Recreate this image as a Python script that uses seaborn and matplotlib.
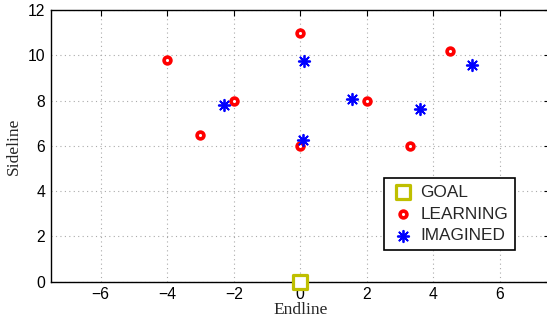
import numpy as np
import pandas as pd
import matplotlib
matplotlib.use('Agg')
import matplotlib.pyplot as plt
import seaborn as sns

# ── Data ──────────────────────────────────────────────────────
goal_x = [0.0]
goal_y = [0.0]

learning_x = [-4.0, -3.0, -2.0, 0.0, 0.0, 2.0, 3.3, 4.5]
learning_y = [9.8, 6.5, 8.0, 11.0, 6.0, 8.0, 6.0, 10.2]

imagined_x = [-2.3, 0.12, 0.08, 1.56, 3.6, 5.15]
imagined_y = [7.82, 9.75, 6.25, 8.05, 7.62, 9.57]

x_ticks = [-6, -4, -2, 0, 2, 4, 6]
y_ticks = [0, 2, 4, 6, 8, 10, 12]

# ── Style ─────────────────────────────────────────────────────
sns.set_style('white')
plt.rcParams['font.family'] = ['Liberation Sans', 'DejaVu Sans']

fig = plt.figure(figsize=(5.47, 3.24), dpi=100)
ax = fig.add_axes([0.0925, 0.1306, 0.913, 0.8386])

sns.scatterplot(x=goal_x, y=goal_y, ax=ax, marker='s', s=100,
                facecolor='white', edgecolor='#BFBF00', linewidth=2.3,
                label='GOAL', clip_on=False, zorder=5)
sns.scatterplot(x=learning_x, y=learning_y, ax=ax, marker='o', s=24,
                facecolor='white', edgecolor='red', linewidth=2.6,
                label='LEARNING', zorder=4)
sns.scatterplot(x=imagined_x, y=imagined_y, ax=ax, marker=(8, 2, 0), s=68,
                color='blue', edgecolor='blue', linewidth=1.3,
                label='IMAGINED', zorder=4)

ax.set_xlim(-7.5, 7.5)
ax.set_ylim(0, 12)
ax.set_xticks(x_ticks)
ax.set_yticks(y_ticks)
ax.set_xticklabels([str(t).replace('-', '\u2212') for t in x_ticks], fontsize=11.3)
ax.set_yticklabels([str(t) for t in y_ticks], fontsize=11.3)
ax.tick_params(direction='in', length=4, width=0.8, top=True, right=True,
               pad=4, colors='black')

ax.grid(True, linestyle=(0, (1, 3)), color='#aaaaaa', linewidth=0.8)
for s in ax.spines.values():
    s.set_color('black')
    s.set_linewidth(1.0)

ax.set_xlabel('Endline', family='Liberation Serif', fontsize=12.5, labelpad=0)
ax.set_ylabel('Sideline', family='Liberation Serif', fontsize=12.5, labelpad=4)

leg = ax.legend(loc='upper left', bbox_to_anchor=(0.668, 0.383),
                fontsize=12.4, frameon=True, fancybox=False, framealpha=1,
                edgecolor='black', borderpad=0.4, handletextpad=0.3,
                labelspacing=0.4, handlelength=1.4, borderaxespad=0)
leg.get_frame().set_linewidth(1.2)

fig.savefig('out.png', dpi=100)
